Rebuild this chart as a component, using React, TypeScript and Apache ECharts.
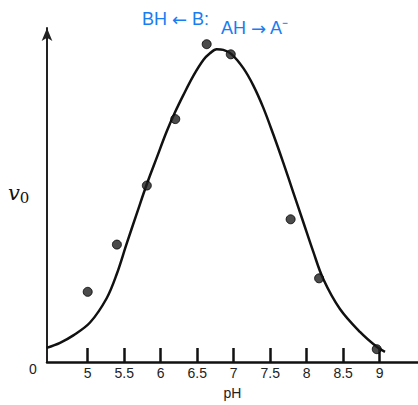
import React, { useEffect, useRef } from "react";
import * as echarts from "echarts";

const xTicks = [5, 5.5, 6, 6.5, 7, 7.5, 8, 8.5, 9];
const pointPH = [5.0, 5.4, 5.81, 6.2, 6.63, 6.96, 7.78, 8.17, 8.96];
const pointV = [0.208, 0.348, 0.523, 0.72, 0.942, 0.912, 0.423, 0.248, 0.038];
const curvePH = [4.438, 4.621, 4.803, 5.032, 5.26, 5.397, 5.534, 5.671, 5.808, 5.945, 6.082, 6.196, 6.31, 6.447, 6.584, 6.675, 6.767, 6.858, 6.973, 7.132, 7.268, 7.405, 7.542, 7.679, 7.816, 7.953, 8.09, 8.227, 8.456, 8.73, 8.959, 9.073];
const curveV = [0.042, 0.057, 0.079, 0.117, 0.189, 0.26, 0.351, 0.439, 0.526, 0.605, 0.683, 0.74, 0.791, 0.848, 0.895, 0.915, 0.927, 0.925, 0.912, 0.871, 0.82, 0.754, 0.675, 0.591, 0.503, 0.415, 0.327, 0.246, 0.157, 0.089, 0.045, 0.03];
const yZeroLabel = "0";

export default function App() {
  const ref = useRef<HTMLDivElement>(null);
  useEffect(() => {
    if (!ref.current) return;
    const chart = echarts.init(ref.current, null, { renderer: "svg" });
    const font = "'Liberation Sans', Arial, sans-serif";
    const blue = "#1a7cf2";
    chart.setOption({
      animation: false,
      backgroundColor: "#ffffff",
      grid: { left: 47, right: 0, top: 28, bottom: 38 },
      xAxis: {
        type: "value",
        min: 4.4425,
        max: 9.525,
        name: "pH",
        nameLocation: "middle",
        nameGap: 24,
        nameTextStyle: { fontFamily: font, fontSize: 14, color: "#222" },
        axisLine: { show: true, lineStyle: { color: "#111", width: 2.5 } },
        axisTick: { show: true, inside: true, length: 14, customValues: xTicks, lineStyle: { color: "#111", width: 2.5 } },
        axisLabel: { customValues: xTicks, margin: 4, fontFamily: font, fontSize: 14, color: "#222" },
        splitLine: { show: false },
      },
      yAxis: {
        type: "value",
        min: 0,
        max: 0.99,
        axisLine: { show: true, symbol: ["none", "arrow"], symbolSize: [8, 13], lineStyle: { color: "#222", width: 2 } },
        axisTick: { show: false },
        axisLabel: { show: false },
        splitLine: { show: false },
      },
      graphic: [
        {
          type: "text",
          left: 29,
          top: 362,
          style: { text: yZeroLabel, fontFamily: font, fontSize: 14, fill: "#222" },
        },
        {
          type: "text",
          left: 8,
          top: 182,
          style: {
            text: "{v|v}{s|0}",
            rich: {
              v: { fontFamily: "'DejaVu Serif', serif", fontStyle: "italic", fontSize: 21, fill: "#111" },
              s: { fontFamily: "'DejaVu Serif', serif", fontSize: 15, fill: "#111", padding: [10, 0, 0, 0] },
            },
          },
        },
        {
          type: "text",
          left: 142,
          top: 10,
          style: {
            text: "{a|BH }{b|←}{a| B:}",
            rich: {
              a: { fontFamily: font, fontSize: 18, fill: blue },
              b: { fontFamily: "'DejaVu Sans', sans-serif", fontSize: 18, fill: blue },
            },
          },
        },
        {
          type: "text",
          left: 221,
          top: 19,
          style: {
            text: "{a|AH }{b|→}{a| A⁻}",
            rich: {
              a: { fontFamily: font, fontSize: 18, fill: blue },
              b: { fontFamily: "'DejaVu Sans', sans-serif", fontSize: 18, fill: blue },
            },
          },
        },
      ],
      series: [
        {
          type: "line",
          data: curvePH.map((x, i) => [x, curveV[i]]),
          smooth: 0.35,
          showSymbol: false,
          lineStyle: { color: "#111", width: 2.5 },
          z: 2,
        },
        {
          type: "scatter",
          data: pointPH.map((x, i) => [x, pointV[i]]),
          symbolSize: 9,
          itemStyle: { color: "#1e1e1e", borderColor: "#000", borderWidth: 1 },
          z: 3,
        },
      ],
    });
    return () => chart.dispose();
  }, []);
  return <div ref={ref} style={{ position: "fixed", left: 0, top: 0, width: 418, height: 405 }} />;
}
